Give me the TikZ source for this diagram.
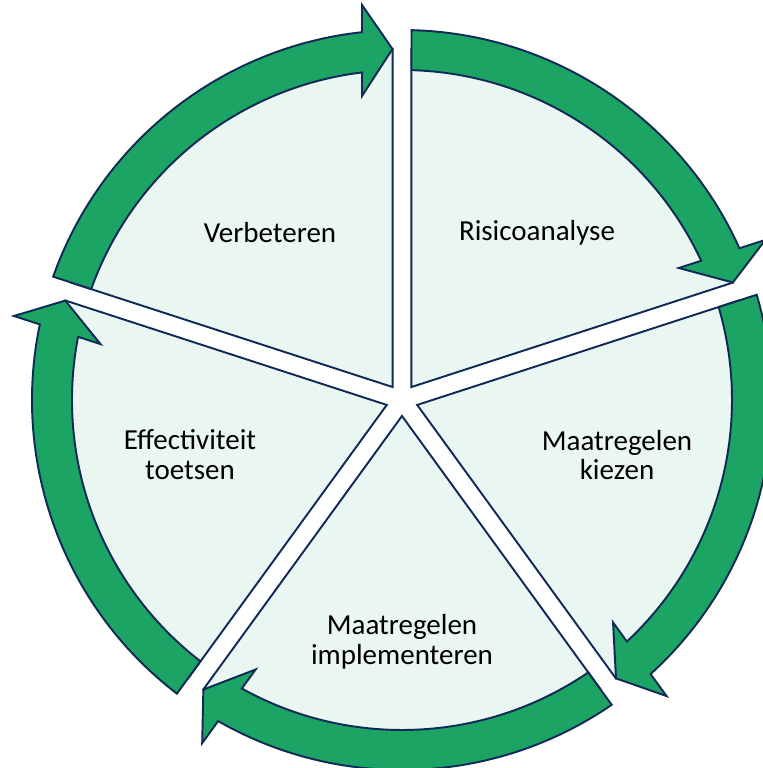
\documentclass[tikz,border=0pt]{standalone}
\usepackage{fontspec}
\setmainfont{Carlito}
\usetikzlibrary{positioning}

\definecolor{ringgreen}{RGB}{27,164,100}
\definecolor{navyline}{RGB}{16,42,88}
\definecolor{mintfill}{RGB}{234,246,242}

\begin{document}
\begin{tikzpicture}[x=0.02cm, y=0.02cm,
  segment/.style={draw=navyline, fill=mintfill, line width=1.1pt, line join=miter},
  ring/.style={draw=navyline, fill=ringgreen, line width=1.1pt, line join=miter},
  txt/.style={align=center, text=black, font=\fontsize{16.5}{17}\selectfont},
  cyclepart/.pic={
    % pie piece, pushed out along its middle
    \draw[segment] (126:16) -- ++(162:338) arc[start angle=162, end angle=90, radius=338] -- cycle;
    % curved arrow over the piece
    \draw[ring] (160.53:370) arc[start angle=160.53, end angle=96.21, radius=370]
      -- (-40,395) -- (-9.5,351) -- (-40,304) -- (96.96:330)
      arc[start angle=96.96, end angle=160.35, radius=330] -- cycle;
  }]
\useasboundingbox (-402,-368) rectangle (360,400);
\pic (verb) {cyclepart};
\pic (risk) [rotate=-72] {cyclepart};
\pic (kies) [rotate=-144] {cyclepart};
\pic (impl) [rotate=-216] {cyclepart};
\pic (toets) [rotate=-288] {cyclepart};
\node (verbeteren) [txt] at (-132,167) {Verbeteren};
\node (risico) [txt] at (135,167) {Risicoanalyse};
\node (kiezen) [txt] at (215,-55) {Maatregelen\\kiezen};
\node (implement) [txt] at (0,-242) {Maatregelen\\implementeren};
\node (effect) [txt] at (-212,-55) {Effectiviteit\\toetsen};
\end{tikzpicture}
\end{document}
